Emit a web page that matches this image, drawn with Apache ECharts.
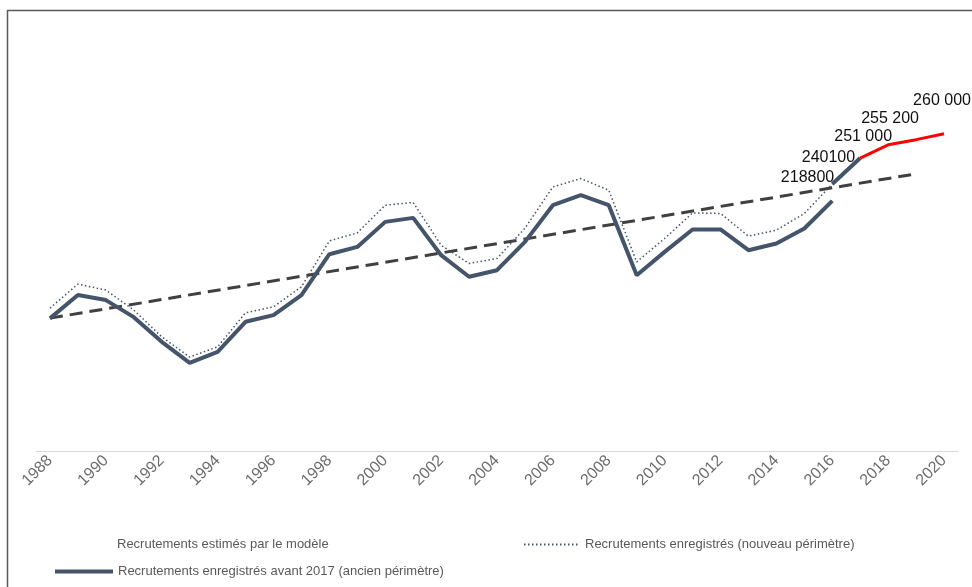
<!DOCTYPE html>
<html>
<head>
<meta charset="utf-8">
<script src="https://cdn.jsdelivr.net/npm/echarts@6/dist/echarts.min.js"></script>
<style>
html,body{margin:0;padding:0;background:#fff;}
#chart{width:972px;height:587px;}
</style>
</head>
<body>
<div id="chart"></div>
<script>
var years = ['1988','1989','1990','1991','1992','1993','1994','1995','1996','1997','1998','1999','2000','2001','2002','2003','2004','2005','2006','2007','2008','2009','2010','2011','2012','2013','2014','2015','2016','2017','2018','2019','2020'];

// Recrutements enregistrés avant 2017 (ancien périmètre), 1988-2016
var ancien = [108700,127800,123700,109700,89500,72300,81300,105900,111400,127800,161300,167300,187800,191100,160500,142800,148200,171400,201500,209700,201500,144100,163200,181600,181600,164600,170100,182400,205000];

// Recrutements enregistrés (nouveau périmètre), 1988-2016
var nouveau = [117100,136800,131900,115500,93600,77000,85400,113300,118200,134600,172200,178800,201500,203700,168700,153700,157800,182600,216500,223300,213800,155000,174200,195200,194700,176100,181000,194700,218800];

// Raccord 2016-2017
var raccordYears = ['2016','2017'];
var raccord = [218800,240100];

// Recrutements estimés par le modèle, 2017-2020
var modeleYears = ['2017','2018','2019','2020'];
var modele = [240100,251000,255200,260000];

// Tendance (extrémités)
var trendYears = ['1988','2019'];
var trend = [108900,227200];

// Etiquettes
var labelYears = ['2016','2017','2018','2019','2020'];
var labelTexts = ['218800','240100','251 000','255 200','260 000'];

var labelStyle = {
  '2016': {position:'left', distance:0, offset:[2,-6]},
  '2017': {position:'left', distance:5, offset:[0,0]},
  '2018': {position:'top', distance:0, offset:[-25,0]},
  '2019': {position:'top', distance:13, offset:[-26,0]},
  '2020': {position:'top', distance:25, offset:[-2,0]}
};

function labelFor(year){
  var i = labelYears.indexOf(year);
  if (i < 0) return null;
  var s = labelStyle[year];
  return {
    show:true, formatter: labelTexts[i], position:s.position, distance:s.distance, offset:s.offset,
    color:'#111', fontSize:16, fontFamily:'Liberation Sans, Arial, sans-serif'
  };
}

function padFull(arr){
  var out = [];
  for (var i=0;i<years.length;i++) out.push(i<arr.length ? arr[i] : null);
  return out;
}
function pairs(ys, vs, labelSet){
  return ys.map(function(y,i){
    var d = {value:[y, vs[i]]};
    if (labelSet && labelSet.indexOf(y) >= 0){ var l = labelFor(y); if (l) d.label = l; }
    return d;
  });
}

var SLATE = '#44546A';
var legendText = {color:'#595959', fontSize:13, fontFamily:'Liberation Sans, Arial, sans-serif'};
var chart = echarts.init(document.getElementById('chart'));
chart.setOption({
  animation:false,
  backgroundColor:'#fff',
  grid:{left:36, right:14, top:85, bottom:136, containLabel:false, outerBoundsMode:'none'},
  xAxis:{
    type:'category', data:years, boundaryGap:true,
    axisLine:{lineStyle:{color:'#d9d9d9', width:1}},
    axisTick:{show:false},
    axisLabel:{interval:1, rotate:45, margin:7, color:'#6b6b6b', fontSize:16, fontFamily:'Liberation Sans, Arial, sans-serif'},
    splitLine:{show:false}
  },
  yAxis:{type:'value', min:0, max:300000, show:false, splitLine:{show:false}},
  legend:[
    {left:48, top:533, itemWidth:58, itemHeight:8, itemGap:10, textStyle:legendText,
     data:[{name:'Recrutements estimés par le modèle', itemStyle:{opacity:0}, lineStyle:{opacity:0}}]},
    {left:518, top:533, itemWidth:56, itemHeight:8, textStyle:legendText,
     data:[{name:'Recrutements enregistrés (nouveau périmètre)', itemStyle:{opacity:0}}]},
    {left:48, top:560, itemWidth:58, itemHeight:8, textStyle:legendText,
     data:[{name:'Recrutements enregistrés avant 2017 (ancien périmètre)', itemStyle:{opacity:0}, lineStyle:{width:4}}]}
  ],
  graphic:[{type:'rect', shape:{x:7.5, y:10.5, width:1000, height:1000}, style:{fill:'none', stroke:'#595959', lineWidth:1.5}, silent:true, z:-1}],
  series:[
    {name:'Tendance', type:'line', data:pairs(trendYears, trend, null), symbol:'none',
     lineStyle:{color:'#404040', width:3, type:[13,7]}, z:1},
    {name:'Recrutements enregistrés (nouveau périmètre)', type:'line', data:padFull(nouveau), symbol:'none',
     lineStyle:{color:SLATE, width:1.5, type:[1.5,2.5]}, itemStyle:{color:SLATE}, z:2},
    {name:'Recrutements enregistrés avant 2017 (ancien périmètre)', type:'line', data:padFull(ancien), symbol:'none',
     lineStyle:{color:SLATE, width:4}, itemStyle:{color:SLATE}, z:3},
    {name:'Raccord', type:'line', data:pairs(raccordYears, raccord, ['2016','2017']), symbol:'circle', symbolSize:0.1, showSymbol:true,
     lineStyle:{color:SLATE, width:4}, itemStyle:{color:SLATE}, z:3},
    {name:'Recrutements estimés par le modèle', type:'line', data:pairs(modeleYears, modele, ['2018','2019','2020']), symbol:'circle', symbolSize:0.1, showSymbol:true,
     lineStyle:{color:'#ff0000', width:3}, itemStyle:{color:'#ff0000'}, z:4}
  ]
});
</script>
</body>
</html>
